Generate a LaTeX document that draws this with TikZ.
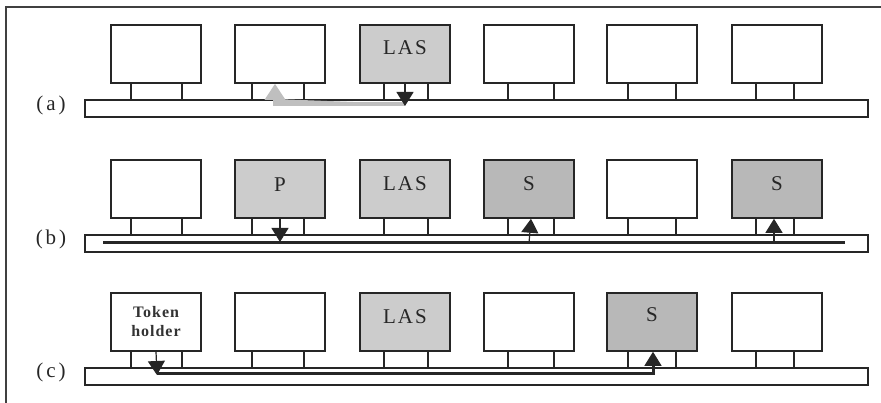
\documentclass[tikz,border=0pt]{standalone}
\usepackage{fontspec}
\setmainfont{Liberation Serif}
\newfontfamily\spacedA{Liberation Serif}[LetterSpace=10]
\newfontfamily\spacedB{Liberation Serif}[LetterSpace=14]
\newfontfamily\spacedT{Liberation Serif}[LetterSpace=6]
\usetikzlibrary{arrows.meta}
\tikzset{
  box/.style={draw=black!85, line width=1.6pt, minimum width=90pt, minimum height=58pt, inner sep=0pt, fill=white},
  lasbox/.style={box, fill=black!20},
  sbox/.style={box, fill=black!28},
  bus/.style={draw=black!85, line width=1.6pt, minimum width=783pt, minimum height=17pt, inner sep=0pt},
  leg/.style={draw=black!85, line width=1.4pt},
  boxtext/.style={font=\spacedA\fontsize{21}{24}\selectfont, text=black!85},
  rowlabel/.style={font=\spacedB\fontsize{21}{24}\selectfont, text=black!85},
  tokentext/.style={font=\spacedT\bfseries\fontsize{16}{19}\selectfont, text=black!80, align=center},
  darkarrow/.style={draw=black!85, line width=1.2pt, -{Triangle[width=17pt,length=14pt]}, fill=black!80},
  dataline/.style={draw=black!85, line width=3pt},
  grayarrow/.style={draw=black!25, line width=3.2pt, -{Triangle[width=20pt,length=16pt]}, fill=black!25},
  frameline/.style={draw=black!75, line width=1.8pt}
}
\begin{document}
\begin{tikzpicture}[x=1pt,y=-1pt]
\useasboundingbox (0,0) rectangle (881,403);
\fill[white] (0,0) rectangle (881,403);
% frame
\coordinate (fr1) at (6,410);
\coordinate (fr2) at (6,7);
\coordinate (fr3) at (890,7);
\draw[frameline] (fr1) -- (fr2) -- (fr3);

% ---------- row (a)
\node[rowlabel] (la) at (51,105) {(a)};
\node[bus] (busa) at (476.5,108.5) {};
\node[box] (a1) at (156,54) {};
\node[box] (a2) at (280,54) {};
\node[lasbox, label={[boxtext,yshift=6pt]center:LAS}] (a3) at (405,54) {};
\node[box] (a4) at (529,54) {};
\node[box] (a5) at (652,54) {};
\node[box] (a6) at (777,54) {};

% ---------- row (b)
\node[rowlabel] (lb) at (51,239) {(b)};
\node[bus] (busb) at (476.5,243.5) {};
\node[box] (b1) at (156,189) {};
\node[lasbox, label={[boxtext,yshift=4pt]center:P}] (b2) at (280,189) {};
\node[lasbox, label={[boxtext,yshift=5pt]center:LAS}] (b3) at (405,189) {};
\node[sbox, label={[boxtext,yshift=5pt]center:S}] (b4) at (529,189) {};
\node[box] (b5) at (652,189) {};
\node[sbox, label={[boxtext,yshift=5pt]center:S}] (b6) at (777,189) {};

% ---------- row (c)
\node[rowlabel] (lc) at (51,372) {(c)};
\node[bus] (busc) at (476.5,376.5) {};
\node[box] (c1) at (156,322) {};
\node[tokentext] (tok) at (c1.center) {Token\\holder};
\node[box] (c2) at (280,322) {};
\node[lasbox, label={[boxtext,yshift=5pt]center:LAS}] (c3) at (405,322) {};
\node[box] (c4) at (529,322) {};
\node[sbox, label={[boxtext,yshift=7pt]center:S}] (c5) at (652,322) {};
\node[box] (c6) at (777,322) {};

% legs
\foreach \r/\yb/\yt in {a/83/100, b/218/235, c/351/368}{
  \foreach \x in {131,182,252,304,384,428,508,554,628,676,756,794}{
    \draw[leg] (\x,\yb) -- (\x,\yt+1);
  }
}

% ---------- arrows (a)
\coordinate (ta) at (405,106);
\coordinate (ga) at (405,104);
\draw[grayarrow] (ga) -| ([xshift=-5pt]a2.south);
\draw[darkarrow] (a3.south) -- (ta);

% ---------- arrows (b)
\coordinate (lbl) at (103,243);
\coordinate (lbr) at (845,243);
\draw[dataline] (lbl) -- (lbr);
\draw[darkarrow] (b2.south) -- (b2.south |- 0,242);
\draw[darkarrow] (b4.south |- lbl) -- ([xshift=2pt]b4.south);
\draw[darkarrow] ([xshift=-3pt]b6.south |- lbl) -- ([xshift=-3pt]b6.south);

% ---------- arrows (c)
\coordinate (tc) at (157,375);
\coordinate (lc1) at (157,373);
\draw[dataline] (lc1) -| ([xshift=1pt]c5.south |- 0,362);
\draw[darkarrow] ([xshift=1pt]c5.south |- 0,364) -- ([xshift=1pt]c5.south);
\draw[darkarrow] (c1.south) -- (tc);
\end{tikzpicture}
\end{document}
